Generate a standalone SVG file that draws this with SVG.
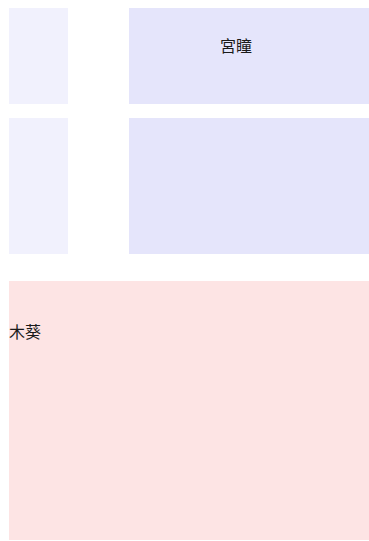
<svg xmlns="http://www.w3.org/2000/svg" width="369" height="541" viewBox="0 0 369 541">
<style>
.side{fill:#f1f1fd}
.main{fill:#e5e5fb}
.zone{fill:#fde4e4}
text{font-family:"Noto Sans CJK SC","Noto Sans CJK JP",sans-serif;font-size:16px;fill:#1a1a1a}
</style>
<rect width="369" height="541" fill="#ffffff"/>
<g id="side1"><rect class="side" x="9" y="8" width="59" height="96"/></g>
<g id="node-gongtong"><rect class="main" x="129" y="8" width="240" height="96"/><text x="236" y="52" text-anchor="middle">宮瞳</text></g>
<g id="side2"><rect class="side" x="9" y="118" width="59" height="136"/></g>
<g id="node2"><rect class="main" x="129" y="118" width="240" height="136"/></g>
<g id="node-mukui"><rect class="zone" x="9" y="281" width="360" height="259"/><text x="9" y="338">木葵</text></g>
<g id="connectors"></g>
</svg>
